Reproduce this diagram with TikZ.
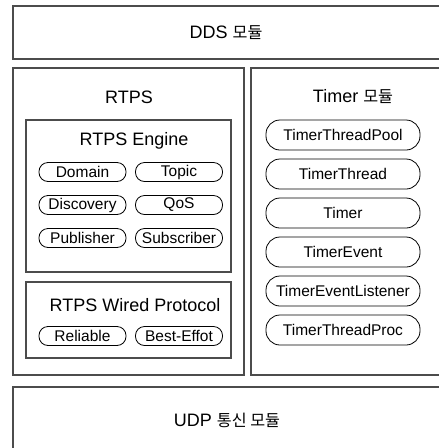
\documentclass[tikz,border=0pt]{standalone}
\usepackage{fontspec}
\setmainfont{Liberation Sans}
\newfontfamily\kr[Scale=0.9]{Noto Sans CJK KR}
\usepackage{tikz}
\begin{document}
\begin{tikzpicture}[x=1pt,y=-1pt,
  box/.style={draw=black!70,line width=1.1pt,inner sep=0pt,outer sep=0pt,anchor=north west},
  title/.style={font=\fontsize{18}{20}\selectfont},
  pill/.style={draw=black,line width=0.8pt,rounded corners=9pt,minimum width=87pt,minimum height=19pt,inner sep=0pt,font=\fontsize{15.5}{17}\selectfont},
  tpill/.style={pill,rounded corners=14pt,minimum width=154pt,minimum height=30pt}]
\useasboundingbox (0,0) rectangle (439,448);
\clip (0,0) rectangle (439,448);
\node[box,minimum width=447pt,minimum height=53pt] (dds) at (13,6) {};
\node[box,minimum width=231pt,minimum height=307pt] (rtps) at (13,68) {};
\node[box,minimum width=209pt,minimum height=307pt] (timer) at (251,68) {};
\node[box,minimum width=205pt,minimum height=152pt] (engine) at (26,120) {};
\node[box,minimum width=205pt,minimum height=76pt] (wired) at (26,282) {};
\node[box,minimum width=447pt,minimum height=83pt] (udp) at (13,387) {};
\node[title] (ddst) at (226,33) {DDS {\kr 모듈}};
\node[title] (rtpst) at (129,97) {RTPS};
\node[title] (timert) at (353,97) {Timer {\kr 모듈}};
\node[title] (enginet) at (134,141) {RTPS Engine};
\node[title] (wiredt) at (135,305) {RTPS Wired Protocol};
\node[title] (udpt) at (227,420) {UDP {\kr 통신 모듈}};
\node[pill] (domain) at (82.5,172) {Domain};
\node[pill] (topic) at (179,172) {Topic};
\node[pill] (discovery) at (82.5,205) {Discovery};
\node[pill] (qos) at (179,205) {QoS};
\node[pill] (publisher) at (82.5,238) {Publisher};
\node[pill] (subscriber) at (179,238) {Subscriber};
\node[pill] (reliable) at (82.5,336) {Reliable};
\node[pill] (besteffort) at (179,336) {Best-Effot};
\node[tpill] (pool) at (343,135) {TimerThreadPool};
\node[tpill] (thread) at (343,174) {TimerThread};
\node[tpill] (tmr) at (343,213) {Timer};
\node[tpill] (event) at (343,252) {TimerEvent};
\node[tpill] (listener) at (343,291) {TimerEventListener};
\node[tpill] (proc) at (343,330) {TimerThreadProc};
\end{tikzpicture}
\end{document}
